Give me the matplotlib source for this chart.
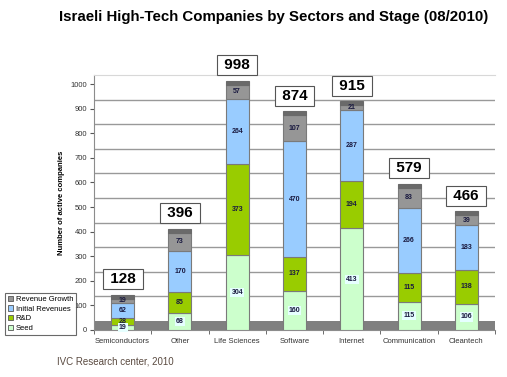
import matplotlib
matplotlib.use("Agg")
import matplotlib.pyplot as plt
import numpy as np

categories = ["Semiconductors", "Other", "Life Sciences", "Software", "Internet", "Communication", "Cleantech"]
seed = [19, 68, 304, 160, 413, 115, 106]
rnd = [28, 85, 373, 137, 194, 115, 138]
initial_rev = [62, 170, 264, 470, 287, 266, 183]
rev_growth = [19, 73, 57, 107, 21, 83, 39]
totals = [128, 396, 998, 874, 915, 579, 466]
yticks = [0, 100, 200, 300, 400, 500, 600, 700, 800, 900, 1000]

series = [("Seed", seed, "#ccffcc"), ("R&D", rnd, "#99cc00"),
          ("Initial Revenues", initial_rev, "#99ccff"), ("Revenue Growth", rev_growth, "#969696")]

plt.rcParams['font.family'] = ['Liberation Sans', 'DejaVu Sans']

fig = plt.figure(figsize=(5.07, 3.77), dpi=100)
ax = fig.add_axes([94/507, 1-330/377, (495-94)/507, (330-75)/377])

x = np.arange(len(categories))
depth = 37  # pseudo-3D offset of back wall
ax.set_xlim(-0.5, len(categories)-0.5)
ax.set_ylim(0, 1000+depth)

# back wall gridlines (offset like 3D)
for t in yticks[1:-1]:
    ax.axhline(t+depth, color="#999999", lw=1.0, zorder=1)
# floor
ax.axhspan(0, depth, color="#808080", zorder=1, lw=0)

w = 0.4
bottom = np.zeros(len(categories))
for name, vals, col in series:
    vals = np.array(vals)
    ax.bar(x, vals, w, bottom=bottom, color=col, edgecolor="#7a7a7a", lw=0.8, zorder=3)
    for xi, b, v in zip(x, bottom, vals):
        kw = {}
        if name == "Seed":
            kw = dict(bbox=dict(boxstyle="square,pad=0.15", fc="#e6ffff", ec="none"))
        ax.text(xi, b + v/2, str(v), ha="center", va="center", fontsize=5,
                fontweight="bold", color="#1a1a40", zorder=5, **kw)
    bottom += vals

# top face strip
ax.bar(x, [16]*len(x), w, bottom=totals, color="#6a6a6a", edgecolor="#6a6a6a", lw=0.8, zorder=3)

for xi, t in zip(x, totals):
    ax.annotate(f" {t} ", (xi, t+16), xytext=(0, 6), textcoords="offset points",
                ha="center", va="bottom", fontsize=11, fontweight="bold", color="black",
                bbox=dict(boxstyle="square,pad=0.2", fc="white", ec="#555555", lw=0.8),
                annotation_clip=False, zorder=6)

ax.set_yticks(yticks)
ax.set_yticklabels([str(t) for t in yticks], fontsize=5.5, color="#333333")
ax.set_xticks(x)
ax.set_xticklabels(categories, fontsize=5.5, color="#333333")
ax.set_xticks(np.arange(-0.5, len(categories)), minor=True)
ax.tick_params(axis="x", which="major", length=0, pad=6)
ax.tick_params(axis="x", which="minor", length=3, color="#555555", direction="out")
ax.tick_params(axis="y", length=3, color="#555555", direction="out", pad=2)

ax.spines["right"].set_visible(False)
ax.spines["top"].set_color("#d8d8d8")
ax.spines["left"].set_color("#8c8c8c")
ax.spines["bottom"].set_color("#8c8c8c")

ax.set_ylabel("Number of active companies", fontsize=5.5, fontweight="bold", labelpad=4)

fig.text(274/507, 1-17/377, "Israeli High-Tech Companies by Sectors and Stage (08/2010)",
         ha="center", va="center", fontsize=10.8, fontweight="bold")
fig.text(57/507, 1-361/377, "IVC Research center, 2010", ha="left", va="center",
         fontsize=7, color="#5a4a40")

from matplotlib.patches import Patch
handles = [Patch(facecolor=c, edgecolor="#555555", lw=0.6, label=n) for n, _, c in series[::-1]]
leg = fig.legend(handles=handles, loc="lower left", bbox_to_anchor=(5/507, 1-335/377),
                 fontsize=5.5, frameon=True, fancybox=False, edgecolor="#444444",
                 handlelength=0.7, handleheight=0.7, handletextpad=0.3, labelspacing=0.3,
                 borderpad=0.4, borderaxespad=0)
leg.get_frame().set_linewidth(0.8)

fig.savefig("out.png", dpi=100)
